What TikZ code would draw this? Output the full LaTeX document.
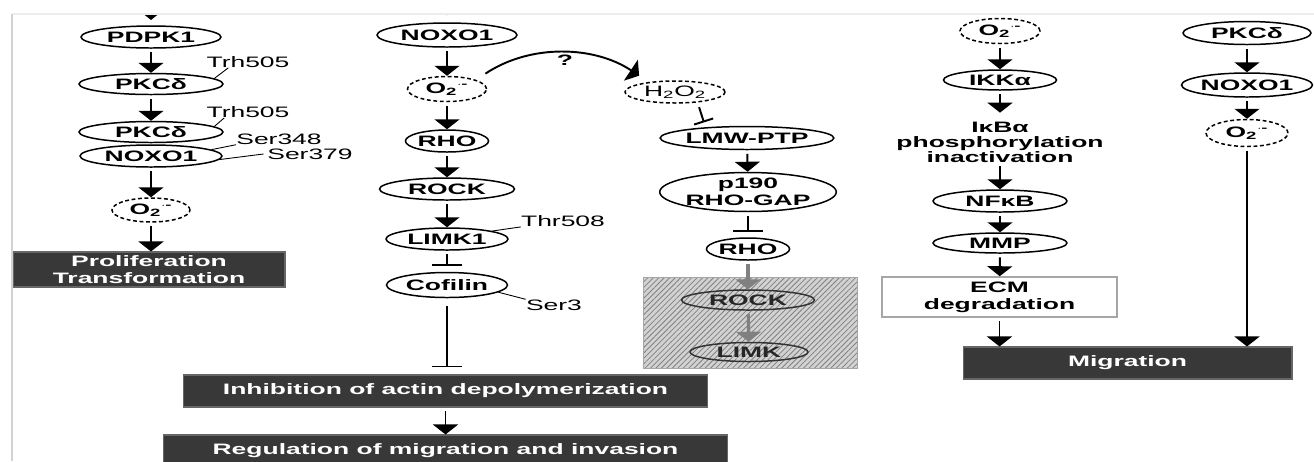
\documentclass[tikz,border=0pt]{standalone}
\usepackage{fontspec}
\setmainfont{Liberation Sans}[FakeStretch=1.75]
\usetikzlibrary{shapes.geometric}
\usetikzlibrary{arrows.meta}
\usetikzlibrary{patterns.meta}
\newcommand{\figfont}{\fontsize{8.6}{9.6}\selectfont}
\newcommand{\superox}{O\textsubscript{2}\textsuperscript{$\cdot$-}}

\begin{document}
\begin{tikzpicture}[
  x=0.02cm, y=-0.02cm,
  every node/.style={font=\figfont\bfseries, inner sep=0pt},
  prot/.style={ellipse, draw, line width=0.85pt, minimum height=0.44cm},
  ros/.style={prot, dash pattern=on 2.2pt off 1.5pt},
  outcome/.style={rectangle, draw=black!60, fill=black!78, text=white, align=center, line width=0.6pt},
  site/.style={font=\figfont},
  hatched/.style={rectangle, draw=gray!70, preaction={fill=gray!35}, pattern={Lines[angle=45,distance=2.2pt,line width=0.45pt]}, pattern color=gray},
  act/.style={draw, -{Triangle[width=0.5cm,length=0.2cm]}, line width=1.1pt, shorten <=2pt},
  inh/.style={draw, -{Bar[width=0.6cm]}, line width=1.1pt, shorten <=2pt},
  faded/.style={act, black!50, line width=1.8pt},
  lead/.style={draw, line width=0.5pt}
]
\useasboundingbox (0,0) rectangle (1314,461);
\begin{scope}
  \clip (0,14) rectangle (1314,461);
  % --- colonna 1 ---
  \coordinate (inA) at (151,0);
  \node[prot, minimum width=2.8cm] (pdpk) at (151,37) {PDPK1};
  \node[prot, minimum width=2.88cm, minimum height=0.42cm] (pkcA) at (151,84) {PKCδ};
  \node[prot, minimum width=2.88cm, minimum height=0.42cm] (pkcB) at (151,132) {PKCδ};
  \node[prot, minimum width=2.84cm] (noxA) at (151,156) {NOXO1};
  \node[ros, minimum width=1.56cm, minimum height=0.48cm] (oxA) at (151,210) {\superox};
  \node[outcome, minimum width=5.44cm, minimum height=0.7cm] (prolif) at (149,269.5) {Proliferation\\Transformation};
  \node[site] (trhA) at (248,62) {Trh505};
  \node[site] (trhB) at (248,112) {Trh505};
  \node[site] (serA) at (279,139) {Ser348};
  \node[site] (serB) at (310,154) {Ser379};
  \draw[lead] (pkcA.5) -- ([xshift=0.44cm]trhA.south west);
  \draw[lead] (pkcB.5) -- ([xshift=0.36cm]trhB.south west);
  \draw[lead] (noxA.6) -- (serA.south west);
  \draw[lead] (noxA.-3) -- ([xshift=-2pt]serB.west);
  \draw[act, shorten >=3pt] (inA) -- (pdpk);
  \draw[act] (pdpk) -- (pkcA);
  \draw[act] (pkcA) -- (pkcB);
  \draw[act] (noxA) -- (oxA);
  \draw[act] (oxA) -- (oxA.south |- prolif.north);

  % --- colonna 2 ---
  \coordinate (inB) at (447,0);
  \node[prot, minimum width=2.8cm, minimum height=0.48cm] (noxB) at (447,35) {NOXO1};
  \node[ros, minimum width=1.58cm, minimum height=0.5cm] (oxB) at (447,89) {\superox};
  \node[prot, minimum width=1.66cm] (rhoA) at (447,141) {RHO};
  \node[prot, minimum width=2.7cm] (rockA) at (447,189) {ROCK};
  \node[prot, minimum width=2.44cm] (limA) at (447,239) {LIMK1};
  \node[prot, minimum width=2.42cm, minimum height=0.5cm] (cof) at (447,285) {Cofilin};
  \node[site] (thr) at (563,221) {Thr508};
  \node[site] (ser3) at (554,305) {Ser3};
  \node[outcome, minimum width=10.5cm, minimum height=0.64cm] (inhib) at (445.5,391) {Inhibition of actin depolymerization};
  \node[outcome, minimum width=11.3cm, minimum height=0.64cm] (reg) at (445.5,451) {Regulation of migration and invasion};
  \draw[lead] (limA.10) -- (thr.south west);
  \draw[lead] (cof.-8) -- (ser3.north west);
  \draw[act, shorten >=4pt] (inB) -- (noxB);
  \draw[act] (noxB) -- (oxB);
  \draw[act] (oxB) -- (rhoA);
  \draw[act] (rhoA) -- (rockA);
  \draw[act] (rockA) -- (limA);
  \draw[inh, shorten >=3.5pt] (limA) -- (cof);
  \draw[inh, shorten <=4.5pt, shorten >=4pt] (cof) -- (cof.south |- inhib.north);
  \draw[act] (inhib) -- (reg);

  % --- colonna 3 ---
  \node[ros, minimum width=2.0cm] (hperox) at (675,92) {\mdseries H\textsubscript{2}O\textsubscript{2}};
  \node[prot, minimum width=3.42cm, minimum height=0.46cm] (lmw) at (747,138) {LMW-PTP};
  \node[prot, minimum width=3.46cm, minimum height=0.62cm, align=center] (gap) at (748,192) {p190\\RHO-GAP};
  \node[prot, minimum width=1.66cm] (rhoB) at (748,249) {RHO};
  \node[hatched, minimum width=4.28cm, minimum height=1.82cm] (hatch) at (750,322.5) {};
  \node[prot, draw=black!80, text=black!85, minimum width=2.66cm, minimum height=0.4cm] (rockB) at (748,300) {ROCK};
  \node[prot, draw=black!80, text=black!85, minimum width=2.36cm, minimum height=0.38cm] (limB) at (749,352) {LIMK};
  \node (qm) at (565,60) {?};
  \draw[act, shorten <=0pt] ([xshift=0.2cm,yshift=0.12cm]oxB.north east) .. controls +(45,-30) and +(-45,-30) .. ([yshift=0.16cm]hperox.north west);
  \draw[inh, -{Bar[width=0.4cm]}, shorten >=2pt] ([xshift=0.46cm]hperox.south) -- ([xshift=-0.84cm]lmw.north);
  \draw[act] (lmw) -- (gap);
  \draw[inh, shorten >=3pt] (gap) -- (rhoB);
  \draw[faded] (rhoB) -- (rockB);
  \draw[faded] (rockB) -- (limB);

  % --- colonna 4 ---
  \node[ros, minimum width=1.6cm, minimum height=0.5cm] (oxC) at (1000,31) {\superox};
  \node[prot, minimum width=2.26cm, minimum height=0.4cm] (ikk) at (1000,80) {IKKα};
  \node[align=center, font=\fontsize{8.6}{8.5}\selectfont\bfseries] (ikb) at (1000,142) {IκBα\\phosphorylation\\inactivation};
  \node[prot, minimum width=2.68cm] (nfkb) at (1000,201) {NFκB};
  \node[prot, minimum width=2.68cm, minimum height=0.4cm] (mmp) at (1000,243) {MMP};
  \node[rectangle, draw=gray!70, line width=0.9pt, fill=white, align=center, minimum width=4.7cm, minimum height=0.8cm] (ecm) at (999.5,297) {ECM\\degradation};
  \node[outcome, minimum width=6.58cm, minimum height=0.64cm] (mig) at (1127.5,363) {Migration};
  \draw[act] (oxC) -- (ikk);
  \draw[act, shorten >=5pt] (ikk) -- (ikb);
  \draw[act] (ikb) -- (nfkb);
  \draw[act] (nfkb) -- (mmp);
  \draw[act] (mmp) -- (ecm);
  \draw[act] (ecm) -- (ecm.south |- mig.north);

  % --- colonna 5 ---
  \node[prot, minimum width=2.56cm, minimum height=0.46cm] (pkcC) at (1247,33) {PKCδ};
  \node[prot, minimum width=2.62cm, minimum height=0.48cm] (noxC) at (1247,85) {NOXO1};
  \node[ros, minimum width=1.64cm, minimum height=0.54cm] (oxD) at (1247,133) {\superox};
  \draw[act] (pkcC) -- (noxC);
  \draw[act] (noxC) -- (oxD);
  \draw[act] (oxD) -- (oxD.south |- mig.north);
\end{scope}
% cornice
\draw[gray!15, line width=1pt] (12,14) -- (1314,14);
\draw[gray!35, line width=0.8pt] (12,14) -- (12,461);
\end{tikzpicture}
\end{document}
